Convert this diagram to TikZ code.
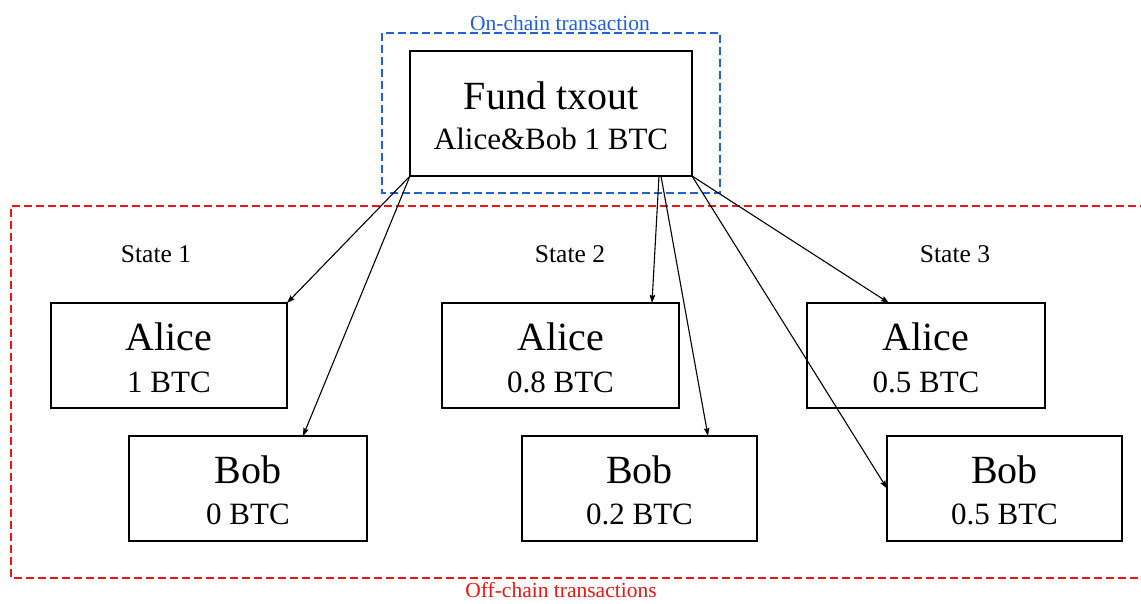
\documentclass[tikz,border=0pt]{standalone}
\usepackage{fontspec}
\setmainfont{Liberation Serif}
\usetikzlibrary{arrows.meta}
\definecolor{onchain}{RGB}{35,95,215}
\definecolor{offchain}{RGB}{240,20,20}
\tikzset{
  box/.style={draw, line width=1.4pt, inner sep=0pt, outer sep=0pt, minimum height=105pt},
  big/.style={anchor=base, inner sep=0pt, font=\fontsize{40}{44}\selectfont},
  small/.style={anchor=base, inner sep=0pt, font=\fontsize{31}{35}\selectfont},
  statelabel/.style={anchor=base, inner sep=0pt, font=\fontsize{25.5}{28}\selectfont},
  grouplabel/.style={anchor=base, inner sep=0pt, font=\fontsize{21.5}{24}\selectfont},
  link/.style={line width=1.1pt, -{Stealth[length=8pt,width=5.5pt,inset=1pt]}},
}
\begin{document}
\begin{tikzpicture}[x=1pt, y=-1pt]
\useasboundingbox (0,0) rectangle (1141,603);
\clip (0,0) rectangle (1141,603);

% groups
\draw[onchain, line width=1.6pt, dash pattern=on 8pt off 4pt] (382,33) rectangle (720,193);
\draw[offchain, line width=1.3pt, dash pattern=on 8pt off 4pt] (1160,206) -- (11,206) -- (11,578) -- (1160,578);
\node[grouplabel, text=onchain] (ontitle) at (560,30) {On-chain transaction};
\node[grouplabel, text=offchain] (offtitle) at (561,597) {Off-chain transactions};

% funding output
\node[box, minimum width=282pt, minimum height=125pt] (fund) at (551,113.5) {};
\node[big] (fundt) at (551,109) {Fund txout};
\node[small] (fundv) at (551,149) {Alice\&Bob 1 BTC};

% state labels
\node[statelabel] (s1) at (156,262) {State 1};
\node[statelabel] (s2) at (570,262) {State 2};
\node[statelabel] (s3) at (955,262) {State 3};

% balances per state
\node[box, minimum width=236pt] (a1) at (169,355.5) {};
\node[big] (a1t) at (169,350) {Alice};
\node[small] (a1v) at (169,392) {1 BTC};
\node[box, minimum width=238pt] (b1) at (248,488.5) {};
\node[big] (b1t) at (248,483) {Bob};
\node[small] (b1v) at (248,524) {0 BTC};

\node[box, minimum width=237pt] (a2) at (560.5,355.5) {};
\node[big] (a2t) at (560.5,350) {Alice};
\node[small] (a2v) at (560.5,392) {0.8 BTC};
\node[box, minimum width=235pt] (b2) at (639.5,488.5) {};
\node[big] (b2t) at (639.5,483) {Bob};
\node[small] (b2v) at (639.5,524) {0.2 BTC};

\node[box, minimum width=238pt] (a3) at (926,355.5) {};
\node[big] (a3t) at (926,350) {Alice};
\node[small] (a3v) at (926,392) {0.5 BTC};
\node[box, minimum width=235pt] (b3) at (1004.5,488.5) {};
\node[big] (b3t) at (1004.5,483) {Bob};
\node[small] (b3v) at (1004.5,524) {0.5 BTC};

% commitments spending the funding output
\draw[link] (fund.south west) -- (a1.north east);
\draw[link] (fund.south west) -- ([xshift=174pt]b1.north west);
\draw[link] ([xshift=249pt]fund.south west) -- ([xshift=210pt]a2.north west);
\draw[link] ([xshift=251pt]fund.south west) -- ([xshift=186pt]b2.north west);
\draw[link] (fund.south east) -- ([xshift=82pt]a3.north west);
\draw[link] (fund.south east) -- (b3.west);
\end{tikzpicture}
\end{document}
